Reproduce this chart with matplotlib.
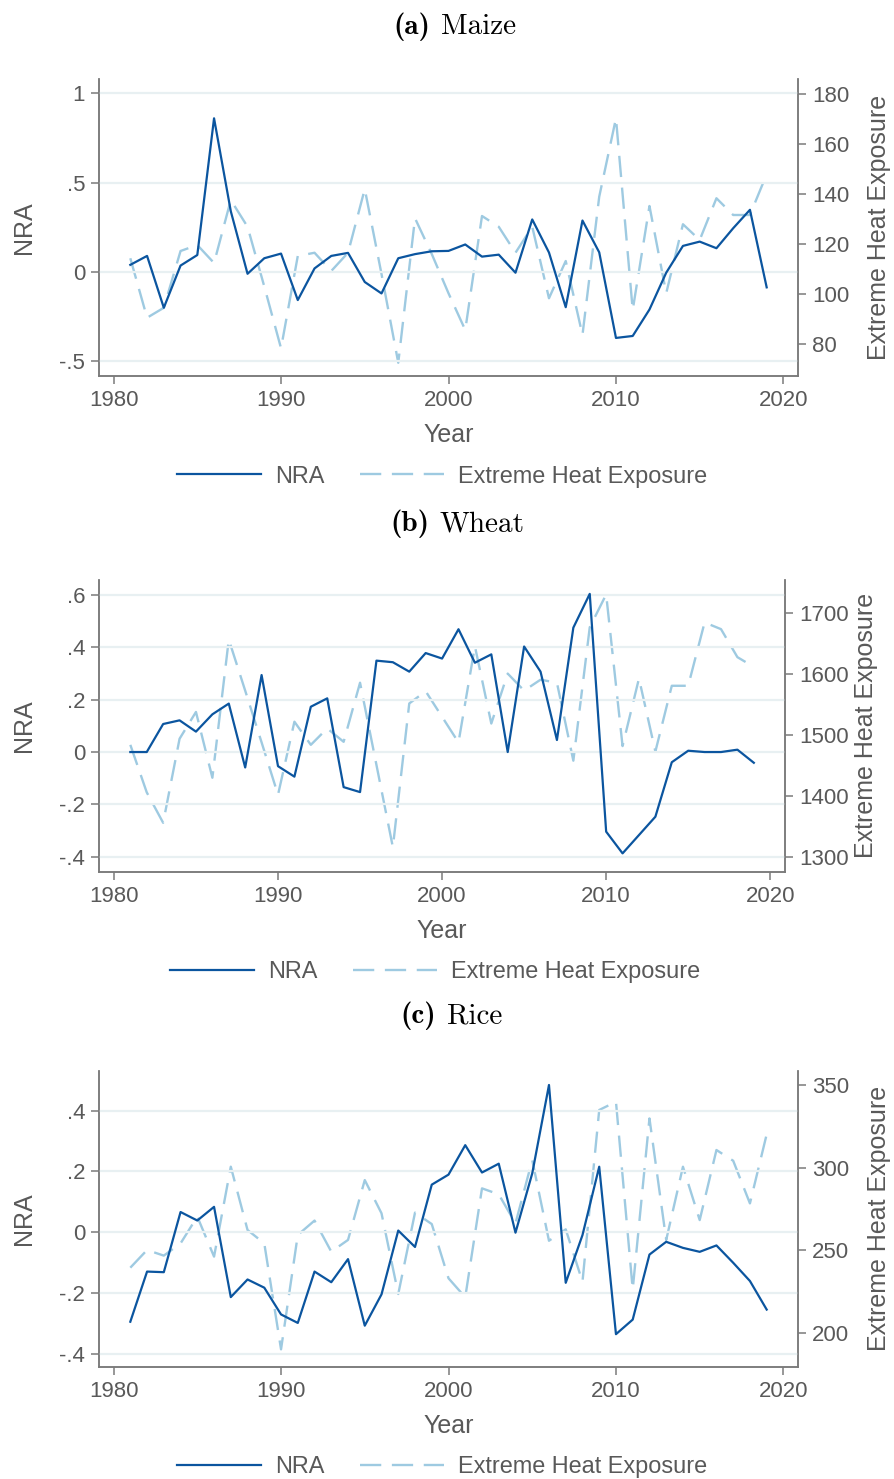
import matplotlib
matplotlib.use("Agg")
import matplotlib.pyplot as plt
from matplotlib.lines import Line2D

plt.rcParams["font.family"] = ["Liberation Sans", "DejaVu Sans"]

years = list(range(1981, 2020))

maize_nra = [0.04, 0.09, -0.20, 0.036, 0.095, 0.86, 0.34, -0.01, 0.077, 0.103,
             -0.157, 0.02, 0.09, 0.107, -0.056, -0.12, 0.077, 0.10, 0.116, 0.118,
             0.154, 0.086, 0.097, -0.004, 0.294, 0.109, -0.197, 0.288, 0.11, -0.369,
             -0.358, -0.21, -0.004, 0.146, 0.17, 0.133, 0.245, 0.348, -0.086]
maize_heat = [114.3, 90.5, 94.5, 117.2, 119.6, 112.4, 137.6, 126.9, 103, 78.3,
              115.2, 116.5, 109.2, 116.5, 142, 108, 72.5, 130.3, 116, 100.3,
              85.6, 131.2, 126.9, 116.5, 126.9, 98.3, 113.2, 83.6, 138.9, 170.3,
              93.6, 135.2, 100.3, 127.9, 121.6, 138.3, 131.6, 131.6, 147.9]

wheat_nra = [0, 0, 0.107, 0.121, 0.078, 0.144, 0.185, -0.059, 0.294, -0.054,
             -0.094, 0.173, 0.205, -0.134, -0.153, 0.349, 0.343, 0.307, 0.378, 0.357,
             0.469, 0.341, 0.373, 0, 0.403, 0.307, 0.046, 0.475, 0.604, -0.304,
             -0.387, -0.317, -0.247, -0.039, 0.005, 0, 0, 0.009, -0.041]
wheat_heat = [1484, 1406, 1356, 1494, 1538, 1430, 1657, 1573, 1488, 1402,
              1522, 1484, 1511, 1489, 1586, 1451, 1316, 1552, 1572, 1530,
              1488, 1646, 1519, 1601, 1573, 1591, 1586, 1458, 1677, 1731,
              1482, 1593, 1473, 1581, 1581, 1685, 1674, 1628, 1612]

rice_nra = [-0.295, -0.13, -0.132, 0.066, 0.038, 0.083, -0.214, -0.156, -0.183, -0.271,
            -0.299, -0.13, -0.165, -0.089, -0.308, -0.205, 0.005, -0.049, 0.156, 0.189,
            0.286, 0.196, 0.225, -0.002, 0.193, 0.484, -0.167, -0.01, 0.215, -0.336,
            -0.288, -0.074, -0.032, -0.052, -0.065, -0.044, -0.101, -0.161, -0.255]
rice_heat = [239.5, 250.2, 246.8, 254.2, 270.4, 246.2, 300.6, 262.3, 254.2, 190.1,
             259.3, 268, 249.2, 256.3, 292.5, 272.4, 223.6, 272.8, 265.9, 233.1,
             221.6, 287.5, 283.9, 266.3, 304.6, 255.8, 262.7, 231, 334.9, 339.9,
             226.4, 329.8, 256.3, 300.6, 268.3, 310.7, 304.2, 278.4, 320.2]

year_ticks = [1980, 1990, 2000, 2010, 2020]

maize_nra_ticks = [-0.5, 0, 0.5, 1]
maize_nra_labels = ["-.5", "0", ".5", "1"]
maize_heat_ticks = [80, 100, 120, 140, 160, 180]

wheat_nra_ticks = [-0.4, -0.2, 0, 0.2, 0.4, 0.6]
wheat_nra_labels = ["-.4", "-.2", "0", ".2", ".4", ".6"]
wheat_heat_ticks = [1300, 1400, 1500, 1600, 1700]

rice_nra_ticks = [-0.4, -0.2, 0, 0.2, 0.4]
rice_nra_labels = ["-.4", "-.2", "0", ".2", ".4"]
rice_heat_ticks = [200, 250, 300, 350]

W, H = 894, 1479
DARK = "#0b559f"
LIGHT = "#9ecae1"
TXT = "#595959"
SPINE = "#7a7a7a"
GRID = "#e8f0f2"

fig = plt.figure(figsize=(W / 100, H / 100), dpi=100)


def px(x, y):
    return x / W, 1 - y / H


def panel(tag, name, title_x, title_y, box, xlim, nra, heat, nlim, hlim,
          nticks, nlabels, hticks, legend_x):
    left, top, right, bottom = box
    ax = fig.add_axes([left / W, 1 - bottom / H, (right - left) / W, (bottom - top) / H])
    ax2 = ax.twinx()

    ax.plot(years, nra, color=DARK, lw=1.6, zorder=3)
    ax2.plot(years, heat, color=LIGHT, lw=1.7, dashes=(9, 4.5))
    ax.set_zorder(ax2.get_zorder() + 1)
    ax.patch.set_visible(False)

    ax.set_xlim(*xlim)
    ax.set_ylim(*nlim)
    ax2.set_ylim(*hlim)
    ax.set_xticks(year_ticks)
    ax.set_yticks(nticks, labels=nlabels)
    ax2.set_yticks(hticks)
    ax.grid(axis="y", color=GRID, lw=1.6, zorder=0)

    for a in (ax, ax2):
        a.spines["top"].set_visible(False)
        for s in ("left", "right", "bottom"):
            a.spines[s].set_color(SPINE)
            a.spines[s].set_linewidth(1.1)
        a.tick_params(colors=SPINE, labelcolor=TXT, labelsize=16,
                      length=6, width=1.1, pad=4)

    cx = (left + right) / 2
    fig.text(*px(cx, bottom + 66), "Year", ha="center", va="baseline",
             fontsize=18, color=TXT)
    fig.text(*px(24, (top + bottom) / 2), "NRA", ha="center", va="center",
             rotation=90, fontsize=18, color=TXT)
    fig.text(*px(right + 81, (top + bottom) / 2), "Extreme Heat Exposure",
             ha="center", va="center", rotation=90, fontsize=18, color=TXT)

    # caption: bold tag + roman crop name
    fig.text(*px(title_x, title_y), tag, ha="right", va="baseline",
             fontsize=21, family="cmb10", color="black")
    fig.text(*px(title_x + 11, title_y), name, ha="left", va="baseline",
             fontsize=21, family="cmr10", color="black")

    handles = [Line2D([], [], color=DARK, lw=1.6),
               Line2D([], [], color=LIGHT, lw=1.7, dashes=(9, 4.5))]
    fig.legend(handles, ["NRA", "Extreme Heat Exposure"], loc="center",
               bbox_to_anchor=px(legend_x, bottom + 100), ncol=2, frameon=False,
               fontsize=16.9, labelcolor=TXT, handlelength=3.6, handletextpad=0.6,
               columnspacing=1.5)


panel("(a)", "Maize", 430, 34, (99, 79, 798, 376),
      (1979.13, 2020.87), maize_nra, maize_heat, (-0.582, 1.08), (67.2, 186),
      maize_nra_ticks, maize_nra_labels, maize_heat_ticks, 442)
panel("(b)", "Wheat", 429, 531, (99, 580, 785, 871.7),
      (1979.09, 2020.9), wheat_nra, wheat_heat, (-0.457, 0.657), (1275.7, 1754.7),
      wheat_nra_ticks, wheat_nra_labels, wheat_heat_ticks, 435)
panel("(c)", "Rice", 436, 1023, (99, 1071, 798, 1366.7),
      (1979.13, 2020.87), rice_nra, rice_heat, (-0.443, 0.530), (179.6, 358.5),
      rice_nra_ticks, rice_nra_labels, rice_heat_ticks, 442)

fig.savefig("out.png", dpi=100)
